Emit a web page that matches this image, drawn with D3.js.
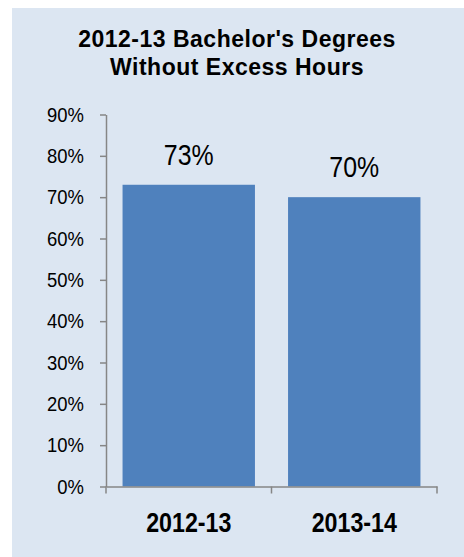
<!DOCTYPE html>
<html>
<head>
<meta charset="utf-8">
<script src="https://cdn.jsdelivr.net/npm/d3@7"></script>
<style>
  body { margin: 0; background: #fff; }
</style>
</head>
<body>
<svg></svg>
<script>
// data
var years = ["2012-13", "2013-14"];
var pct = [73, 70];
var yTicks = [0, 10, 20, 30, 40, 50, 60, 70, 80, 90];
var titleLines = ["2012-13 Bachelor's Degrees", "Without Excess Hours"];

var svgWidth = 464, svgHeight = 557;
var sans = "'Liberation Sans', Arial, sans-serif";
var narrow = 0.83; // squeeze Liberation Sans into an Arial Narrow look
var tickSqueeze = 0.9;

var svg = d3.select("svg")
    .attr("width", svgWidth)
    .attr("height", svgHeight);

// panel background
svg.append("rect")
    .attr("x", 12).attr("y", 8)
    .attr("width", svgWidth - 12).attr("height", svgHeight - 8)
    .attr("fill", "#dce6f2");

svg.append("text")
    .attr("x", 237)
    .attr("text-anchor", "middle")
    .attr("font-family", sans)
    .attr("font-weight", "bold")
    .attr("font-size", 23)
    .attr("letter-spacing", 0.5)
    .attr("fill", "#000")
    .selectAll("tspan")
    .data(titleLines)
    .enter()
    .append("tspan")
    .attr("x", 237)
    .attr("y", function(d, i) { return 47 + i * 28; })
    .text(function(d) { return d; });

var x = d3.scaleBand()
    .domain(years)
    .range([106, 437])
    .paddingInner(0.2)
    .paddingOuter(0.1);

var y = d3.scaleLinear()
    .domain([0, 90])
    .range([486.5, 114.5]);

// bars
svg.selectAll("rect.bar")
    .data(pct)
    .enter()
    .append("rect")
    .attr("class", "bar")
    .attr("x", function(d, i) { return x(years[i]); })
    .attr("y", function(d) { return y(d); })
    .attr("width", x.bandwidth())
    .attr("height", function(d) { return y(0) - y(d); })
    .attr("fill", "#4f81bd");

// value labels
svg.selectAll("g.val")
    .data(pct)
    .enter()
    .append("g")
    .attr("class", "val")
    .attr("transform", function(d, i) {
        return "translate(" + (x(years[i]) + x.bandwidth() / 2) + "," + (y(d) - 20) + ")";
    })
    .append("text")
    .attr("transform", "scale(" + narrow + ",1)")
    .attr("text-anchor", "middle")
    .attr("font-family", sans)
    .attr("font-size", 30)
    .attr("fill", "#000")
    .text(function(d) { return d + "%"; });

// y axis
var yAxis = svg.append("g")
    .attr("transform", "translate(106,0)")
    .call(d3.axisLeft(y).tickValues(yTicks).tickFormat(function(d) { return d + "%"; })
        .tickSize(6).tickSizeOuter(0).tickPadding(8));
yAxis.selectAll("text")
    .attr("x", -22 / tickSqueeze)
    .attr("transform", "scale(" + tickSqueeze + ",1)")
    .attr("font-family", sans)
    .attr("font-size", 20.5)
    .attr("fill", "#000");
yAxis.selectAll("line, path").attr("stroke", "#868686").attr("stroke-width", 1.5);

// x axis
var xAxis = svg.append("g")
    .attr("transform", "translate(0," + y(0) + ")")
    .call(d3.axisBottom(x).tickSize(0).tickSizeOuter(0).tickPadding(26));
xAxis.selectAll("text")
    .attr("transform", "scale(" + narrow + ",1)")
    .attr("font-family", sans)
    .attr("font-size", 28)
    .attr("font-weight", "bold")
    .attr("fill", "#000");
xAxis.select("path").attr("stroke", "#868686").attr("stroke-width", 1.5);

// boundary ticks between categories
var edges = [106, x(years[1]) - x.step() * x.paddingInner() / 2, 437];
xAxis.selectAll("line.edge")
    .data(edges)
    .enter()
    .append("line")
    .attr("class", "edge")
    .attr("x1", function(d) { return d; })
    .attr("x2", function(d) { return d; })
    .attr("y1", 0).attr("y2", 7)
    .attr("stroke", "#868686")
    .attr("stroke-width", 1.5);
</script>
</body>
</html>
